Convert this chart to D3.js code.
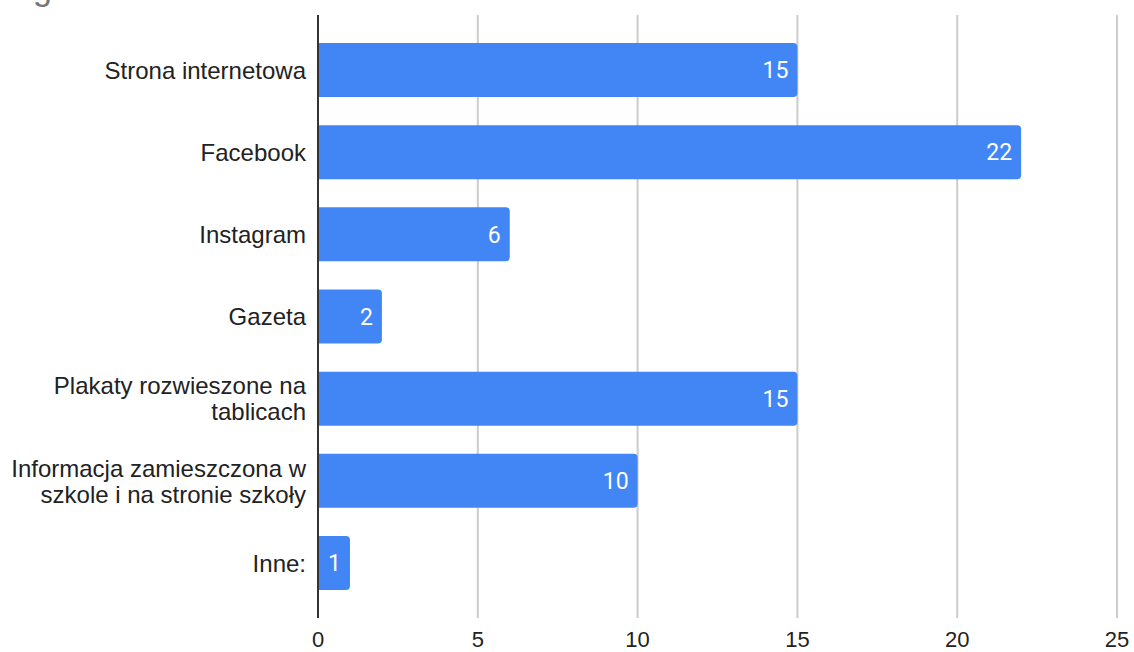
<!DOCTYPE html>
<html>
<head>
<meta charset="utf-8">
<script src="https://cdn.jsdelivr.net/npm/d3@7"></script>
<style>
  body { margin: 0; background: #fff; }
  svg { font-family: "Liberation Sans", Arial, sans-serif; }
  .cat-label { font-size: 24px; fill: #222; }
  .tick-label { font-size: 22px; fill: #222; }
  .value-label { font-family: Roboto, "Liberation Sans", sans-serif; font-size: 23px; fill: #fff; }
</style>
</head>
<body>
<svg id="chart" width="1134" height="652"></svg>
<script>
const width = 1134;
const height = 652;

// data
const categories = [
    ["Strona internetowa"],
    ["Facebook"],
    ["Instagram"],
    ["Gazeta"],
    ["Plakaty rozwieszone na", "tablicach"],
    ["Informacja zamieszczona w", "szkole i na stronie szkoły"],
    ["Inne:"]
];
const values = [15, 22, 6, 2, 15, 10, 1];
const xTicks = [0, 5, 10, 15, 20, 25];

const barColor = "#4285f4";
const plot = { left: 318, right: 1117, top: 15, bottom: 618 };

const svg = d3.select("#chart");

// cut-off chart title, only the descender shows at the top edge
svg.append("text")
    .attr("x", 33)
    .attr("y", 0)
    .style("font-size", "34px")
    .style("fill", "#757575")
    .text("g");

const x = d3.scaleLinear()
    .domain([0, 25])
    .range([plot.left, plot.right]);

const y = d3.scaleBand()
    .domain(d3.range(categories.length))
    .range([plot.top, plot.bottom])
    .paddingInner(0.343)
    .paddingOuter(0.34);

// gridlines
svg.append("g")
    .selectAll("line")
    .data(xTicks.filter(t => t > 0))
    .join("line")
    .attr("x1", d => x(d)).attr("x2", d => x(d))
    .attr("y1", plot.top).attr("y2", plot.bottom)
    .attr("stroke", "#cccccc")
    .attr("stroke-width", 2);

// bars: flat left side, rounded right corners
const r = 4;
function barPath(i) {
    const x0 = x(0), x1 = x(values[i]);
    const y0 = y(i), y1 = y(i) + y.bandwidth();
    return "M" + x0 + "," + y0
        + "H" + (x1 - r)
        + "Q" + x1 + "," + y0 + " " + x1 + "," + (y0 + r)
        + "V" + (y1 - r)
        + "Q" + x1 + "," + y1 + " " + (x1 - r) + "," + y1
        + "H" + x0 + "Z";
}

svg.append("g")
    .selectAll("path")
    .data(values)
    .join("path")
    .attr("d", (d, i) => barPath(i))
    .attr("fill", barColor);

// value labels inside bars
svg.append("g")
    .selectAll("text")
    .data(values)
    .join("text")
    .attr("class", "value-label")
    .attr("x", d => x(d) - 9)
    .attr("y", (d, i) => y(i) + y.bandwidth() / 2)
    .attr("dy", "0.36em")
    .attr("text-anchor", "end")
    .text(d => d);

// baseline axis
svg.append("line")
    .attr("x1", x(0)).attr("x2", x(0))
    .attr("y1", plot.top).attr("y2", plot.bottom)
    .attr("stroke", "#333333")
    .attr("stroke-width", 2);

// category labels, wrapped as in the reference
const lineHeight = 26;
svg.append("g")
    .selectAll("text")
    .data(categories)
    .join("text")
    .attr("class", "cat-label")
    .attr("text-anchor", "end")
    .each(function (lines, i) {
        const cy = y(i) + y.bandwidth() / 2;
        const first = cy - (lines.length - 1) * lineHeight / 2;
        d3.select(this).selectAll("tspan")
            .data(lines)
            .join("tspan")
            .attr("x", 306)
            .attr("y", (l, j) => first + j * lineHeight)
            .attr("dy", "0.36em")
            .text(l => l);
    });

// x tick labels
svg.append("g")
    .selectAll("text")
    .data(xTicks)
    .join("text")
    .attr("class", "tick-label")
    .attr("x", d => x(d))
    .attr("y", 647)
    .attr("text-anchor", "middle")
    .text(d => d);
</script>
</body>
</html>
